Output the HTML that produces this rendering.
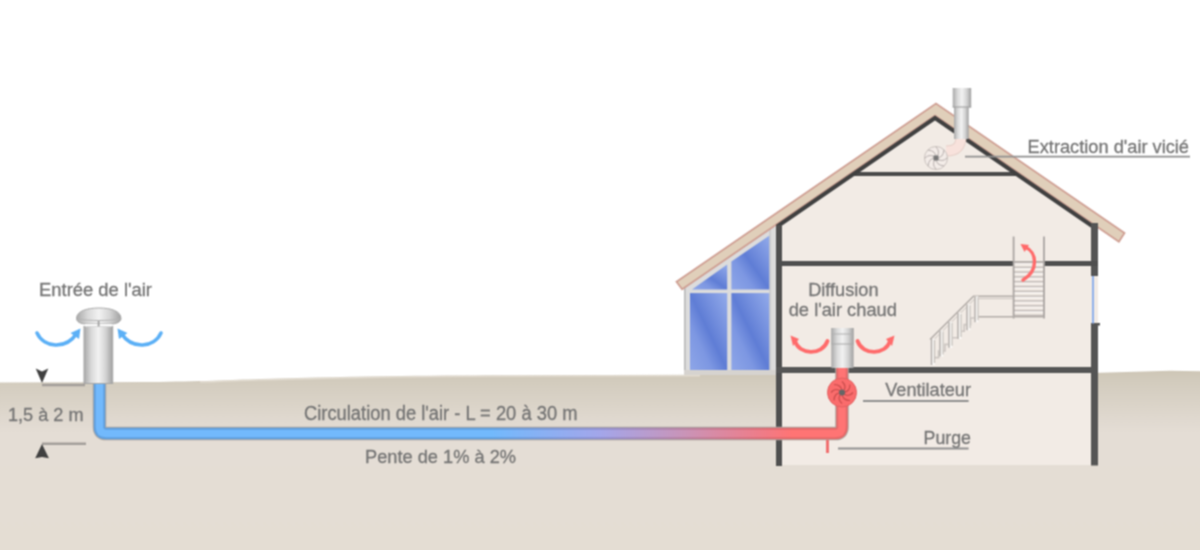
<!DOCTYPE html>
<html><head><meta charset="utf-8">
<style>
html,body{margin:0;padding:0;background:#fff;}
body{width:1200px;height:550px;overflow:hidden;position:relative;}
svg{position:absolute;left:0;top:0;}
text{font-family:"Liberation Sans",sans-serif;font-size:19px;fill:#747474;stroke:#747474;stroke-width:0.3px;}
</style></head><body>
<svg width="1200" height="550" viewBox="0 0 1200 550">
<defs><filter id="fb" x="0" y="0" width="1200" height="550" filterUnits="userSpaceOnUse" color-interpolation-filters="sRGB"><feConvolveMatrix order="3" kernelMatrix="1 2 1 2 4 2 1 2 1" divisor="16" edgeMode="duplicate"/></filter>
<linearGradient id="gGround" x1="0" y1="370" x2="0" y2="550" gradientUnits="userSpaceOnUse">
<stop offset="0" stop-color="#cdc5b5"/>
<stop offset="0.06" stop-color="#d2cbbd"/>
<stop offset="0.35" stop-color="#e4ddd5"/>
<stop offset="1" stop-color="#e4ddd3"/>
</linearGradient>
<linearGradient id="gPipe" x1="0" y1="0" x2="1200" y2="0" gradientUnits="userSpaceOnUse">
<stop offset="0.41" stop-color="#72b9fc"/>
<stop offset="0.5" stop-color="#a3a6ea"/>
<stop offset="0.57" stop-color="#c994b8"/>
<stop offset="0.64" stop-color="#f27a84"/>
<stop offset="0.66" stop-color="#ff7474"/>
</linearGradient>
<linearGradient id="gPipeB" x1="0" y1="0" x2="1200" y2="0" gradientUnits="userSpaceOnUse">
<stop offset="0.41" stop-color="#5f9fdf"/>
<stop offset="0.5" stop-color="#8f8fd0"/>
<stop offset="0.57" stop-color="#b880a0"/>
<stop offset="0.64" stop-color="#de6a72"/>
<stop offset="0.66" stop-color="#e56868"/>
</linearGradient>
<linearGradient id="gCyl" x1="0" y1="0" x2="1" y2="0">
<stop offset="0" stop-color="#a8a8a8"/>
<stop offset="0.25" stop-color="#d8d8d8"/>
<stop offset="0.5" stop-color="#f2f2f2"/>
<stop offset="0.75" stop-color="#d4d4d4"/>
<stop offset="1" stop-color="#a0a0a0"/>
</linearGradient>
<linearGradient id="gGlass" x1="0" y1="1" x2="1" y2="0">
<stop offset="0" stop-color="#8ea6e8"/>
<stop offset="0.3" stop-color="#7d97e2"/>
<stop offset="0.5" stop-color="#5f7dd5"/>
<stop offset="0.7" stop-color="#7590de"/>
<stop offset="1" stop-color="#93abea"/>
</linearGradient>
</defs><g filter="url(#fb)">

<!-- ground -->
<path d="M0,382.5 L150,382 C200,381.5 230,380 260,379 C360,376 450,375.3 510,375.2 L700,374.8 L1100,372.8 L1170,370.8 L1200,371.3 L1200,550 L0,550 Z" fill="url(#gGround)"/>
<path d="M200,382 C230,381 250,380 260,380 C360,377 450,376.3 510,376.2 L700,375.8" fill="none" stroke="#e6e0d6" stroke-width="1.5" opacity="0.8"/>

<!-- ============ HOUSE ============ -->
<!-- veranda window -->
<g>
<polygon points="684,375 684,288 776,225 776,375" fill="#dcdcdc"/>
<polyline points="684.8,375 684.8,288" fill="none" stroke="#b8b8b8" stroke-width="1.6"/>
<polygon points="692,289.5 727.2,264.5 727.2,289.5" fill="url(#gGlass)"/>
<polygon points="731.4,289.5 731.4,261.6 769.5,235.4 769.5,289.5" fill="url(#gGlass)"/>
<rect x="690" y="293.1" width="37.2" height="77" fill="url(#gGlass)"/>
<rect x="731.4" y="293.1" width="38.1" height="77" fill="url(#gGlass)"/>
<rect x="684" y="370" width="92" height="5" fill="#d6d3cf"/>
<rect x="769.5" y="228" width="1.2" height="142" fill="#c4c4c4"/>
</g>

<!-- interior -->
<polygon points="776,229.7 935,120.5 1098,232.5 1098,465 776,465" fill="#f2ebe5"/>
<!-- attic floor -->
<rect x="852" y="172" width="166" height="4" fill="#4a4a4a"/>
<!-- roof tan band -->
<polygon points="676.5,281.8 936,103.5 1124.5,233 1118.9,241.8 935,115.5 682.1,289.2" fill="#e0cfba" stroke="#cf9f93" stroke-width="1.8" stroke-linejoin="miter"/>
<!-- inner dark roof line -->
<polygon points="776,224.7 935,115.5 1098,227.5 1098,232.5 935,120.5 776,229.7" fill="#404040"/>

<!-- walls -->
<rect x="776" y="225" width="6" height="241" fill="#4f4f4f"/>
<rect x="1091" y="223" width="7" height="53" fill="#555"/>
<rect x="1091" y="323.5" width="7" height="142" fill="#555"/>
<rect x="1091" y="323" width="9" height="2.5" fill="#555"/>
<rect x="1092" y="276" width="2" height="47.5" fill="#8fb0ea"/>
<!-- floors -->
<rect x="776" y="261" width="237" height="5" fill="#4f4f4f"/>
<rect x="1044" y="261" width="54" height="5" fill="#4f4f4f"/>
<rect x="776" y="367" width="322" height="6" fill="#555"/>

<!-- chimney -->
<path d="M946,151 C955,151 961,148 961,136" fill="none" stroke="#e6cfc8" stroke-width="11"/>
<path d="M946,151 C955,151 961,148 961,136" fill="none" stroke="#f8e2dc" stroke-width="9"/>
<rect x="954" y="100" width="14.7" height="39" fill="url(#gCyl)"/>
<rect x="952.7" y="88" width="18.5" height="19.4" fill="url(#gCyl)"/>
<line x1="952.7" y1="107" x2="971.2" y2="107" stroke="#9a9a9a" stroke-width="1"/>
<!-- extraction fan -->
<g transform="translate(936,158)">
<circle r="11.5" fill="#f3ece8" stroke="#c8c0bc" stroke-width="1"/>
<g stroke="#b8b0ae" stroke-width="1" fill="none">
<path d="M0,-11 Q5,-6 0,0"/><path d="M11,0 Q6,5 0,0"/><path d="M0,11 Q-5,6 0,0"/><path d="M-11,0 Q-6,-5 0,0"/>
<path d="M7.8,-7.8 Q7.5,0 0,0"/><path d="M7.8,7.8 Q0,7.5 0,0"/><path d="M-7.8,7.8 Q-7.5,0 0,0"/><path d="M-7.8,-7.8 Q0,-7.5 0,0"/>
</g>
<rect x="-2.5" y="-2.5" width="5" height="5" fill="#777"/>
</g>

<!-- stairs -->
<g fill="none" stroke-linecap="butt">
<rect x="1013" y="261" width="31" height="2" fill="#b4aeaa" stroke="none"/>
<line x1="1013.5" y1="263.8" x2="1044" y2="263.8" stroke="#faf7f5" stroke-width="1.2"/>
<line x1="1013.5" y1="262.5" x2="1044" y2="262.5" stroke="#bdb6b2" stroke-width="1.3"/>
<line x1="1013.5" y1="268.6" x2="1044" y2="268.6" stroke="#faf7f5" stroke-width="1.2"/>
<line x1="1013.5" y1="267.3" x2="1044" y2="267.3" stroke="#bdb6b2" stroke-width="1.3"/>
<line x1="1013.5" y1="273.4" x2="1044" y2="273.4" stroke="#faf7f5" stroke-width="1.2"/>
<line x1="1013.5" y1="272.1" x2="1044" y2="272.1" stroke="#bdb6b2" stroke-width="1.3"/>
<line x1="1013.5" y1="278.2" x2="1044" y2="278.2" stroke="#faf7f5" stroke-width="1.2"/>
<line x1="1013.5" y1="276.9" x2="1044" y2="276.9" stroke="#bdb6b2" stroke-width="1.3"/>
<line x1="1013.5" y1="283.0" x2="1044" y2="283.0" stroke="#faf7f5" stroke-width="1.2"/>
<line x1="1013.5" y1="281.7" x2="1044" y2="281.7" stroke="#bdb6b2" stroke-width="1.3"/>
<line x1="1013.5" y1="287.8" x2="1044" y2="287.8" stroke="#faf7f5" stroke-width="1.2"/>
<line x1="1013.5" y1="286.5" x2="1044" y2="286.5" stroke="#bdb6b2" stroke-width="1.3"/>
<line x1="1013.5" y1="292.6" x2="1044" y2="292.6" stroke="#faf7f5" stroke-width="1.2"/>
<line x1="1013.5" y1="291.3" x2="1044" y2="291.3" stroke="#bdb6b2" stroke-width="1.3"/>
<line x1="1013.5" y1="297.4" x2="1044" y2="297.4" stroke="#faf7f5" stroke-width="1.2"/>
<line x1="1013.5" y1="296.1" x2="1044" y2="296.1" stroke="#bdb6b2" stroke-width="1.3"/>
<line x1="1013.5" y1="302.2" x2="1044" y2="302.2" stroke="#faf7f5" stroke-width="1.2"/>
<line x1="1013.5" y1="300.9" x2="1044" y2="300.9" stroke="#bdb6b2" stroke-width="1.3"/>
<line x1="1013.5" y1="307.0" x2="1044" y2="307.0" stroke="#faf7f5" stroke-width="1.2"/>
<line x1="1013.5" y1="305.7" x2="1044" y2="305.7" stroke="#bdb6b2" stroke-width="1.3"/>
<line x1="1013.5" y1="311.8" x2="1044" y2="311.8" stroke="#faf7f5" stroke-width="1.2"/>
<line x1="1013.5" y1="310.5" x2="1044" y2="310.5" stroke="#bdb6b2" stroke-width="1.3"/>
<line x1="1013.5" y1="316.6" x2="1044" y2="316.6" stroke="#faf7f5" stroke-width="1.2"/>
<line x1="1013.5" y1="315.3" x2="1044" y2="315.3" stroke="#bdb6b2" stroke-width="1.3"/>
<line x1="1013.6" y1="236.5" x2="1013.6" y2="318.5" stroke="#aaa5a2" stroke-width="1.8"/>
<line x1="1044" y1="236.5" x2="1044" y2="318.5" stroke="#aaa5a2" stroke-width="1.8"/>
<g stroke="#b2aca8" stroke-width="1.5">
<polyline points="1013,296.3 973.5,296.3 930,339.5"/>
<polyline points="1013,298.6 975,298.6 931.5,342" stroke="#c9c3bf" stroke-width="1"/>
<polyline points="1044,316.8 977,316.8"/>
<polyline points="977.0,318.0 970.6,318.0 970.6,324.6 964.2,324.6 964.2,331.2 957.8,331.2 957.8,337.8 951.4,337.8 951.4,344.4 945.0,344.4 945.0,351.0 938.6,351.0 938.6,357.6 932.2,357.6" stroke="#cbc5c1" stroke-width="1.6"/>
<rect x="930.7" y="339.0" width="4.2" height="26.0" fill="#fbf9f7" stroke="none"/>
<line x1="931.5" y1="339.0" x2="931.5" y2="365.0"/>
<line x1="934.5" y1="340.0" x2="934.5" y2="363.0" stroke="#c2bcb8" stroke-width="1.2"/>
<rect x="939.2" y="330.6" width="4.2" height="26.0" fill="#fbf9f7" stroke="none"/>
<line x1="940" y1="330.6" x2="940" y2="356.6"/>
<line x1="943" y1="331.6" x2="943" y2="354.6" stroke="#c2bcb8" stroke-width="1.2"/>
<rect x="948.2" y="321.8" width="4.2" height="26.0" fill="#fbf9f7" stroke="none"/>
<line x1="949" y1="321.8" x2="949" y2="347.8"/>
<line x1="952" y1="322.8" x2="952" y2="345.8" stroke="#c2bcb8" stroke-width="1.2"/>
<rect x="957.2" y="313.0" width="4.2" height="26.0" fill="#fbf9f7" stroke="none"/>
<line x1="958" y1="313.0" x2="958" y2="339.0"/>
<line x1="961" y1="314.0" x2="961" y2="337.0" stroke="#c2bcb8" stroke-width="1.2"/>
<rect x="966.2" y="304.2" width="4.2" height="26.0" fill="#fbf9f7" stroke="none"/>
<line x1="967" y1="304.2" x2="967" y2="330.2"/>
<line x1="970" y1="305.2" x2="970" y2="328.2" stroke="#c2bcb8" stroke-width="1.2"/>
<rect x="974.2" y="296.3" width="4.2" height="26.0" fill="#fbf9f7" stroke="none"/>
<line x1="975" y1="296.3" x2="975" y2="322.3"/>
<line x1="978" y1="297.3" x2="978" y2="320.3" stroke="#c2bcb8" stroke-width="1.2"/>
</g>
</g>

<!-- stair arrow -->
<path d="M1025,247 C1037,252 1039,270 1023,280" fill="none" stroke="#ff6a6a" stroke-width="3.4" stroke-linecap="round"/>
<polygon points="1020.5,244 1029,245 1024.5,252" fill="#ff6a6a"/>

<!-- diffuser column -->
<rect x="831.3" y="328" width="22.3" height="40" fill="url(#gCyl)"/>
<rect x="831.3" y="328" width="22.3" height="16" fill="url(#gCyl)" opacity="0.6"/>
<line x1="831.3" y1="334" x2="853.6" y2="334" stroke="#b0b0b0"/>
<line x1="831.3" y1="344" x2="853.6" y2="344" stroke="#a8a8a8"/>
<!-- red arrows -->
<path d="M795,341 C799,355 822,356 827.5,341" fill="none" stroke="#ff6b6b" stroke-width="3.8" stroke-linecap="round"/>
<polygon points="790.5,335.5 799,339 793,346" fill="#ff6b6b"/>
<path d="M890,341 C886,355 863,356 857.5,341" fill="none" stroke="#ff6b6b" stroke-width="3.8" stroke-linecap="round"/>
<polygon points="894.5,335.5 886,339 892,346" fill="#ff6b6b"/>

<!-- pipe -->
<path d="M99.5,383 L99.5,427 Q99.5,433.5 106,433.5 L835.5,433.5 Q842,433.5 842,427 L842,368" fill="none" stroke="#aaa5a0" stroke-width="13.5"/>
<path d="M99.5,383 L99.5,427 Q99.5,433.5 106,433.5 L835.5,433.5 Q842,433.5 842,427 L842,368" fill="none" stroke="url(#gPipeB)" stroke-width="11.5"/>
<path d="M99.5,383 L99.5,427 Q99.5,433.5 106,433.5 L835.5,433.5 Q842,433.5 842,427 L842,368" fill="none" stroke="url(#gPipe)" stroke-width="7.5"/>
<!-- purge -->
<rect x="826" y="440" width="3" height="13" fill="#f07070"/>
<!-- ventilator fan -->
<g transform="translate(842,392.5)">
<circle r="14.5" fill="#fa6c6c" stroke="#e06060" stroke-width="1"/>
<g stroke="#c84c4c" stroke-width="1.2" fill="none">
<path d="M0,-11 Q6,-6 0,0"/><path d="M11,0 Q6,6 0,0"/><path d="M0,11 Q-6,6 0,0"/><path d="M-11,0 Q-6,-6 0,0"/>
<path d="M8,-8 Q8,0 0,0"/><path d="M8,8 Q0,8 0,0"/><path d="M-8,8 Q-8,0 0,0"/><path d="M-8,-8 Q0,-8 0,0"/>
</g>
<circle r="3" fill="#666"/>
</g>

<!-- inlet -->
<rect x="84" y="326.5" width="28.7" height="57" fill="url(#gCyl)" stroke="#a5a5a5" stroke-width="1"/>
<path d="M76.5,318.5 C76.5,311 87,308 99,308 C111,308 121,311 121,318.5 C121,321.5 117,324 111,324 L86,324 C80,324 76.5,321.5 76.5,318.5 Z" fill="url(#gCyl)" stroke="#a8a8a8" stroke-width="1"/>
<path d="M77.5,319 C90,321 108,321 120,319" fill="none" stroke="#b4b4b4" stroke-width="1"/>
<rect x="85" y="324" width="27" height="2.6" fill="#fafafa"/>
<rect x="97.7" y="321" width="1.8" height="5.5" fill="#a0a0a0"/>
<!-- blue arrows -->
<path d="M37,333 C44,348 66,350 77,333" fill="none" stroke="#5cb0f6" stroke-width="3.6" stroke-linecap="round"/>
<polygon points="80.5,328.5 70.5,333 79,339" fill="#5cb0f6"/>
<path d="M121,333 C132,350 154,348 161,333" fill="none" stroke="#5cb0f6" stroke-width="3.6" stroke-linecap="round"/>
<polygon points="117.5,328.5 127.5,333 119,339" fill="#5cb0f6"/>

<!-- depth markers -->
<line x1="42" y1="385" x2="85" y2="385" stroke="#a39e9a" stroke-width="2.6"/>
<polygon points="35.7,368.6 42,371.5 48.3,368.6 42,383" fill="#404040"/>
<line x1="42" y1="443.8" x2="86" y2="443.8" stroke="#a39e9a" stroke-width="2.6"/>
<polygon points="35.2,458.3 42,456.9 48.9,458.3 42,444" fill="#404040"/>

<!-- labels -->
<text x="39" y="296" textLength="113" lengthAdjust="spacingAndGlyphs">Entrée de l'air</text>
<text x="8" y="420.5" textLength="75.6" lengthAdjust="spacingAndGlyphs">1,5 à 2 m</text>
<text style="font-size:20px" x="304" y="420.3" textLength="273.5" lengthAdjust="spacingAndGlyphs">Circulation de l'air - L = 20 à 30 m</text>
<text x="365" y="462.8" textLength="151" lengthAdjust="spacingAndGlyphs">Pente de 1% à 2%</text>
<text x="808.2" y="295.5" textLength="70.4" lengthAdjust="spacingAndGlyphs">Diffusion</text>
<text x="788.7" y="316" textLength="108.3" lengthAdjust="spacingAndGlyphs">de l'air chaud</text>
<text x="885.2" y="395.8" textLength="85.8" lengthAdjust="spacingAndGlyphs">Ventilateur</text>
<text x="923.6" y="444.4" textLength="47.4" lengthAdjust="spacingAndGlyphs">Purge</text>
<text x="1027.6" y="153" textLength="161.4" lengthAdjust="spacingAndGlyphs">Extraction d'air vicié</text>
<line x1="965" y1="156.6" x2="1190" y2="156.6" stroke="#8f8f8f" stroke-width="1.8"/>
<line x1="863" y1="401" x2="968.6" y2="401" stroke="#8f8f8f" stroke-width="1.8"/>
<line x1="838" y1="448.5" x2="968.6" y2="448.5" stroke="#8f8f8f" stroke-width="1.8"/>
</g></svg>
</body></html>
